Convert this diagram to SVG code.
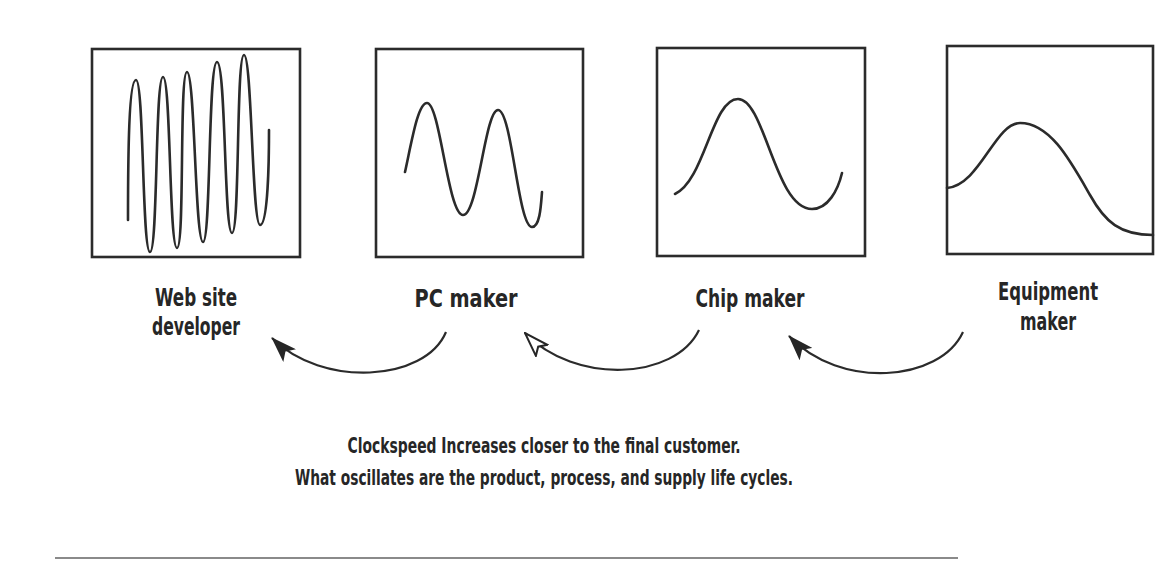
<svg xmlns="http://www.w3.org/2000/svg" width="1176" height="561" viewBox="0 0 1176 561">
<style>
.box{fill:none;stroke:#2b2b2b;stroke-width:2.6}
.wave{fill:none;stroke:#2b2b2b;stroke-width:2.6;stroke-linecap:round;stroke-linejoin:round}
.conn{fill:none;stroke:#2b2b2b;stroke-width:2.2}
.lbl{font-family:"DejaVu Sans Condensed","DejaVu Sans",sans-serif;font-weight:bold;font-size:24px;fill:#262626;text-anchor:middle}
.cap{font-family:"DejaVu Sans Condensed","DejaVu Sans",sans-serif;font-weight:bold;font-size:21px;fill:#262626;text-anchor:middle}
</style>
<defs>
<marker id="ah" viewBox="0 0 26 18" refX="25" refY="9" markerWidth="26" markerHeight="18" markerUnits="userSpaceOnUse" orient="auto">
<path d="M0,0 L26,9 L0,18 L6,9 z" fill="#262626"/>
</marker>
<marker id="ah2" viewBox="0 0 26 18" refX="25" refY="9" markerWidth="26" markerHeight="18" markerUnits="userSpaceOnUse" orient="auto">
<path d="M1,1 L25,9 L1,17 L6,9 z" fill="#fff" stroke="#262626" stroke-width="2"/>
</marker>
</defs>
<rect width="1176" height="561" fill="#ffffff"/>
<g id="web-site-developer">
<rect class="box" x="92" y="49" width="208" height="208"/>
<path class="wave" d="M128,220 C128,150 129,80 136,80 C144,80 142,252 150,252 C158,252 155,77 163,77 C171,77 169,248 177,248 C185,248 179,72 187,72 C195,72 195,242 203,242 C211,242 208,62 217,62 C226,62 224,233 232,233 C240,233 236,55 244,55 C252,55 252,225 260,225 C268,225 269,160 269,130"/>
<text class="lbl" x="196" y="306" textLength="82" lengthAdjust="spacingAndGlyphs">Web site</text>
<text class="lbl" x="196" y="335" textLength="88" lengthAdjust="spacingAndGlyphs">developer</text>
</g>
<g id="pc-maker">
<rect class="box" x="376" y="49" width="207" height="208"/>
<path class="wave" d="M405,172 C412,140 418,103 427,103 C440,103 448,215 463,215 C478,215 485,110 498,110 C512,110 518,227 532,227 C540,227 541,205 542,192"/>
<text class="lbl" x="466" y="307" textLength="103" lengthAdjust="spacingAndGlyphs">PC maker</text>
</g>
<g id="chip-maker">
<rect class="box" x="657" y="48" width="208" height="208"/>
<path class="wave" d="M675,194 C705,180 712,99 738,99 C765,99 775,209 812,209 C828,209 838,190 842,173"/>
<text class="lbl" x="750" y="307" textLength="109" lengthAdjust="spacingAndGlyphs">Chip maker</text>
</g>
<g id="equipment-maker">
<rect class="box" x="947" y="46" width="206" height="208"/>
<path class="wave" d="M947,188 C980,185 995,123 1020,123 C1050,123 1070,160 1090,195 C1105,222 1120,235 1153,235"/>
<text class="lbl" x="1048" y="300" textLength="100" lengthAdjust="spacingAndGlyphs">Equipment</text>
<text class="lbl" x="1048" y="330" textLength="56" lengthAdjust="spacingAndGlyphs">maker</text>
</g>
<g id="connectors">
<path class="conn" d="M446,332 C425,382 322,388 272,338" marker-end="url(#ah)"/>
<path class="conn" d="M699,330 C675,380 575,385 525,333" marker-end="url(#ah2)"/>
<path class="conn" d="M963,332 C940,382 840,390 789,336" marker-end="url(#ah)"/>
</g>
<g id="captions">
<text class="cap" x="544" y="453" textLength="393" lengthAdjust="spacingAndGlyphs">Clockspeed Increases closer to the final customer.</text>
<text class="cap" x="544" y="485" textLength="498" lengthAdjust="spacingAndGlyphs">What oscillates are the product, process, and supply life cycles.</text>
</g>
<line x1="55" y1="558" x2="958" y2="558" stroke="#8a8a8a" stroke-width="2"/>
</svg>
